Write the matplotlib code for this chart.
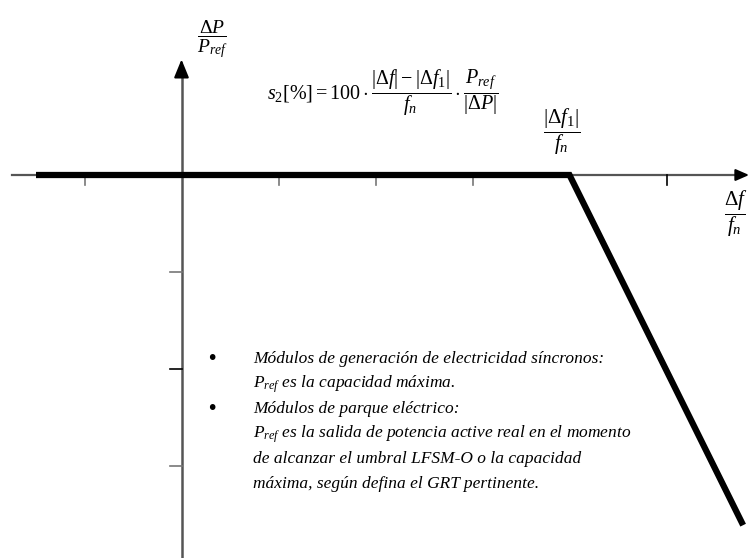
import matplotlib.pyplot as plt

plt.rcParams['mathtext.fontset'] = 'custom'
plt.rcParams['mathtext.rm'] = 'Liberation Serif'
plt.rcParams['mathtext.it'] = 'Liberation Serif:italic'
plt.rcParams['mathtext.bf'] = 'Liberation Serif:bold'

# curva de estatismo (unidades de marca del eje)
curva_x = [-1.5, 4.0, 5.79]
curva_y = [0.0, 0.0, -3.61]

marcas_x = [-1, 1, 2, 3, 5]
marcas_y = [-1, -2, -3]
marcas_negras_x = [5]
marcas_negras_y = [-2]

notas = [
    ('Módulos de generación de electricidad síncronos:',
     ['$P_{ref}$ es la capacidad máxima.']),
    ('Módulos de parque eléctrico:',
     ['$P_{ref}$ es la salida de potencia active real en el momento',
      'de alcanzar el umbral LFSM-O o la capacidad',
      'máxima, según defina el GRT pertinente.']),
]

u = 97.0
x0, y0 = 181.5, 175.0

fig = plt.figure(figsize=(7.53, 5.58), dpi=100)
ax = fig.add_axes([0, 0, 1, 1])
ax.set_xlim(-x0 / u, (753 - x0) / u)
ax.set_ylim(-(558 - y0) / u, y0 / u)
ax.axis('off')

# ejes con flecha
ax.plot([-1.75, 5.8], [0, 0], color='#555555', lw=1.6, zorder=2)
ax.plot([0, 0], [-4.0, 1.1], color='#555555', lw=1.8, zorder=2)
ax.annotate('', xy=(5.88, 0), xytext=(5.7, 0),
            arrowprops=dict(arrowstyle='-|>,head_length=0.8,head_width=0.35',
                            color='black', lw=1.5))
ax.annotate('', xy=(0, 1.22), xytext=(0, 1.0),
            arrowprops=dict(arrowstyle='-|>,head_length=1.1,head_width=0.45',
                            color='black', lw=1.5))

for m in marcas_x:
    c = 'black' if m in marcas_negras_x else '#777777'
    ax.plot([m, m], [0, -0.1], color=c, lw=1.2, zorder=2)
for m in marcas_y:
    c = 'black' if m in marcas_negras_y else '#777777'
    ax.plot([-0.12, 0], [m, m], color=c, lw=1.2, zorder=2)

ax.plot(curva_x, curva_y, color='black', lw=4.5, solid_capstyle='butt',
        solid_joinstyle='miter', zorder=3)

# rótulos de los ejes y fórmula
ax.text(0.32, 1.40, r'$\dfrac{\Delta P}{P_{ref}}$', fontsize=14,
        ha='center', va='center')
ax.text(3.92, 0.45, r'$\dfrac{|\Delta f_1|}{f_n}$', fontsize=15,
        ha='center', va='center')
ax.text(5.71, -0.40, r'$\dfrac{\Delta f}{f_n}$', fontsize=15,
        ha='center', va='center')
ax.text(2.07, 0.85,
        r'$s_2[\%] = 100\cdot\dfrac{|\Delta f| - |\Delta f_1|}{f_n}'
        r'\cdot\dfrac{P_{ref}}{|\Delta P|}$',
        fontsize=14.5, ha='center', va='center')

# notas con viñetas, una línea cada 25 px
paso = 25 / u
y = -(359 - y0) / u
for titulo, cuerpo in notas:
    ax.text((212 - x0) / u, y, '•', fontsize=14, ha='center', va='center',
            family='DejaVu Sans')
    ax.text((253 - x0) / u, y, titulo, fontsize=12.5, style='italic',
            family='Liberation Serif', va='center')
    for linea in cuerpo:
        y -= paso
        ax.text((253 - x0) / u, y, linea, fontsize=12.5, style='italic',
                family='Liberation Serif', va='center')
    y -= paso

fig.savefig('out.png', dpi=100)
